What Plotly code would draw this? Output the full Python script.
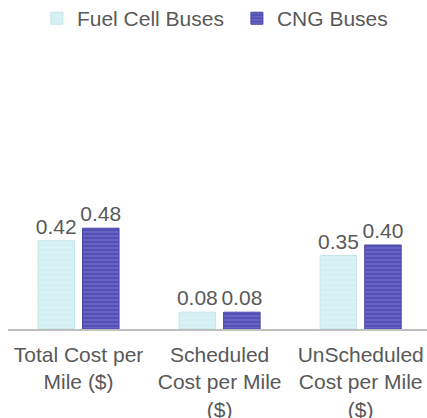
import plotly.graph_objects as go

categories = ["Total Cost per<br>Mile ($)", "Scheduled<br>Cost per Mile<br>($)", "UnScheduled<br>Cost per Mile<br>($)"]
fuel_cell = [0.42, 0.08, 0.35]
cng = [0.48, 0.08, 0.40]
fuel_cell_labels = ["0.42", "0.08", "0.35"]
cng_labels = ["0.48", "0.08", "0.40"]
series_names = ["Fuel Cell Buses", "CNG Buses"]

font_family = "Liberation Sans, Arial, sans-serif"
text_color = "#595959"
fs = 21
fc_color = "#d3eff1"
cng_color = "#5550b6"

fig = go.Figure()
fig.add_trace(go.Bar(
    name=series_names[0], x=categories, y=fuel_cell, text=fuel_cell_labels,
    textposition="outside", constraintext="none", cliponaxis=False,
    textfont=dict(size=fs, color=text_color, family=font_family),
    marker=dict(color=fc_color, line=dict(color="#c4e6e8", width=1),
                pattern=dict(shape="-", fgcolor="#e9f8f9", size=5, solidity=0.25)),
))
fig.add_trace(go.Bar(
    name=series_names[1], x=categories, y=cng, text=cng_labels,
    textposition="outside", constraintext="none", cliponaxis=False,
    textfont=dict(size=fs, color=text_color, family=font_family),
    marker=dict(color=cng_color, line=dict(color="#4a46a8", width=1),
                pattern=dict(shape="-", fgcolor="#8c89d8", size=4, solidity=0.35)),
))

fig.update_layout(
    width=427, height=418,
    margin=dict(l=8, r=0, t=50, b=89, autoexpand=False),
    paper_bgcolor="white", plot_bgcolor="white",
    barmode="group", bargap=0.369, bargroupgap=0.18,
    font=dict(family=font_family, size=fs, color=text_color),
    legend=dict(orientation="h", xref="container", yref="paper",
                x=0.0864, y=1.186, xanchor="left", yanchor="top",
                font=dict(size=fs, color=text_color), entrywidth=155,
                traceorder="normal"),
    xaxis=dict(type="category", range=[-0.5, 2.47], showline=True, linecolor="#bfbfbf",
               linewidth=1.5, ticks="", showgrid=False, automargin=False,
               ticklabelstandoff=6,
               tickfont=dict(size=fs, color=text_color)),
    yaxis=dict(range=[0, 1.3286], visible=False, showgrid=False, automargin=False),
)

# remove the default 8px page margin so the figure fills the window exactly
fig.write_html(
    "out.html",
    config={"displayModeBar": False},
    post_script="document.body.style.margin='0';document.body.style.overflow='hidden';",
)
